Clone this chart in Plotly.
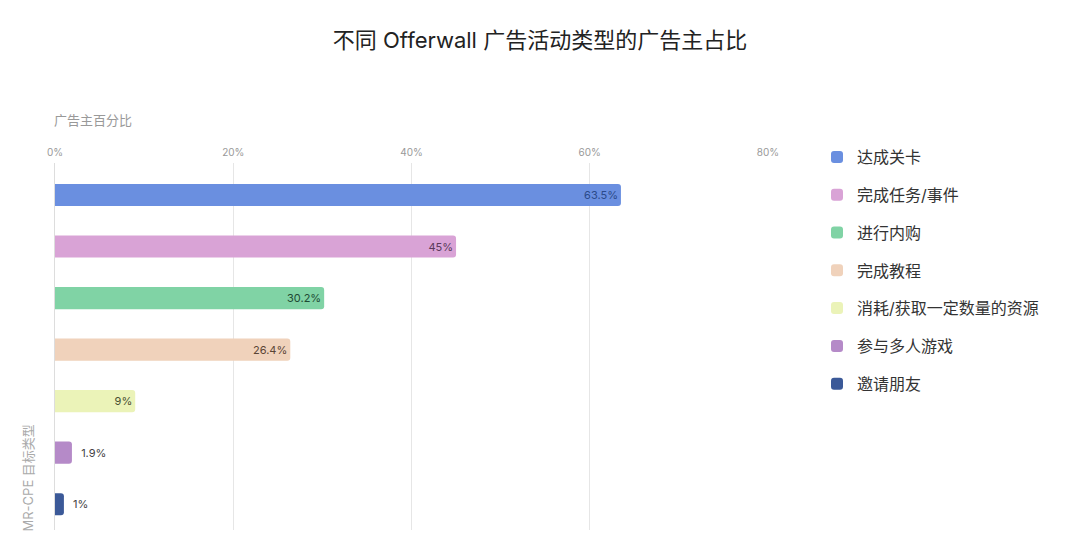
import plotly.graph_objects as go

categories = ["达成关卡", "完成任务/事件", "进行内购", "完成教程",
              "消耗/获取一定数量的资源", "参与多人游戏", "邀请朋友"]
values = [63.5, 45, 30.2, 26.4, 9, 1.9, 1]
labels = ["63.5%", "45%", "30.2%", "26.4%", "9%", "1.9%", "1%"]
colors = ["#6a8fe0", "#d9a3d6", "#80d3a5", "#f0d2bb", "#ebf3b8", "#b58ac8", "#3b5998"]
text_colors = ["#2b4a8a", "#5a3a5a", "#1e4a34", "#5a4535", "#4a5030", "#444444", "#444444"]
positions = ["inside", "inside", "inside", "inside", "inside", "outside", "outside"]
x_ticks = [0, 20, 40, 60, 80]
x_tick_text = ["0%", "20%", "40%", "60%", "80%"]

FONT = "Inter, Noto Sans CJK SC, sans-serif"

# plot area in pixels
L, R, T, B = 55, 768, 163, 530


def px_x(px):
    return (px - L) / (R - L)


def px_y(py):
    return (B - py) / (B - T)


fig = go.Figure()
for i, (cat, v, lab, c, tc, pos) in enumerate(zip(categories, values, labels, colors, text_colors, positions)):
    fig.add_trace(go.Bar(
        x=[v], y=[cat], orientation="h", name=cat,
        marker=dict(color=c, line=dict(width=0)),
        text=[lab], textposition=pos, insidetextanchor="end",
        texttemplate="%{text}" if pos == "inside" else "  %{text}",
        textfont=dict(size=11, color=tc, family=FONT),
        outsidetextfont=dict(size=11, color=tc, family=FONT),
        width=0.43, legendgroup=f"g{i}", cliponaxis=False,
    ))

fig.update_layout(
    width=1080, height=552,
    margin=dict(l=L, r=1080 - R, t=T, b=552 - B),
    paper_bgcolor="white", plot_bgcolor="white",
    barmode="overlay", barcornerradius=3,
    font=dict(family=FONT, color="#333"),
    title=dict(text="不同 Offerwall 广告活动类型的广告主占比", x=0.5, xref="container",
               y=1 - 40 / 552, yref="container", yanchor="middle",
               font=dict(size=22, color="#222", family=FONT)),
    showlegend=True,
    legend=dict(x=817 / 1080, xref="container", y=1 - 140 / 552, yref="container",
                xanchor="left", yanchor="top", traceorder="grouped", tracegroupgap=14,
                font=dict(size=16, color="#333", family=FONT), itemwidth=30),
    uniformtext=dict(minsize=8, mode="show"),
)
fig.update_xaxes(range=[0, 80], side="top", tickvals=x_ticks, ticktext=x_tick_text,
                 showgrid=True, gridcolor="#e6e6e6", gridwidth=1, zeroline=False,
                 showline=False, ticks="", tickfont=dict(size=10, color="#999", family=FONT),
                 ticklabelstandoff=4)
fig.update_yaxes(categoryorder="array", categoryarray=categories, range=[6.5, -0.62],
                 showticklabels=False, showgrid=False, zeroline=False,
                 showline=True, linecolor="#dddddd", linewidth=1, ticks="")

fig.add_annotation(text="广告主百分比", xref="paper", x=px_x(52), yref="paper", y=px_y(120),
                   xanchor="left", yanchor="middle", showarrow=False,
                   font=dict(size=13, color="#999", family=FONT))
fig.add_annotation(text="MR-CPE 目标类型", xref="paper", x=px_x(27), yref="paper",
                   y=px_y(534), xanchor="center", yanchor="bottom", textangle=-90, showarrow=False,
                   font=dict(size=13, color="#aaa", family=FONT))

fig.write_html("out.html")
